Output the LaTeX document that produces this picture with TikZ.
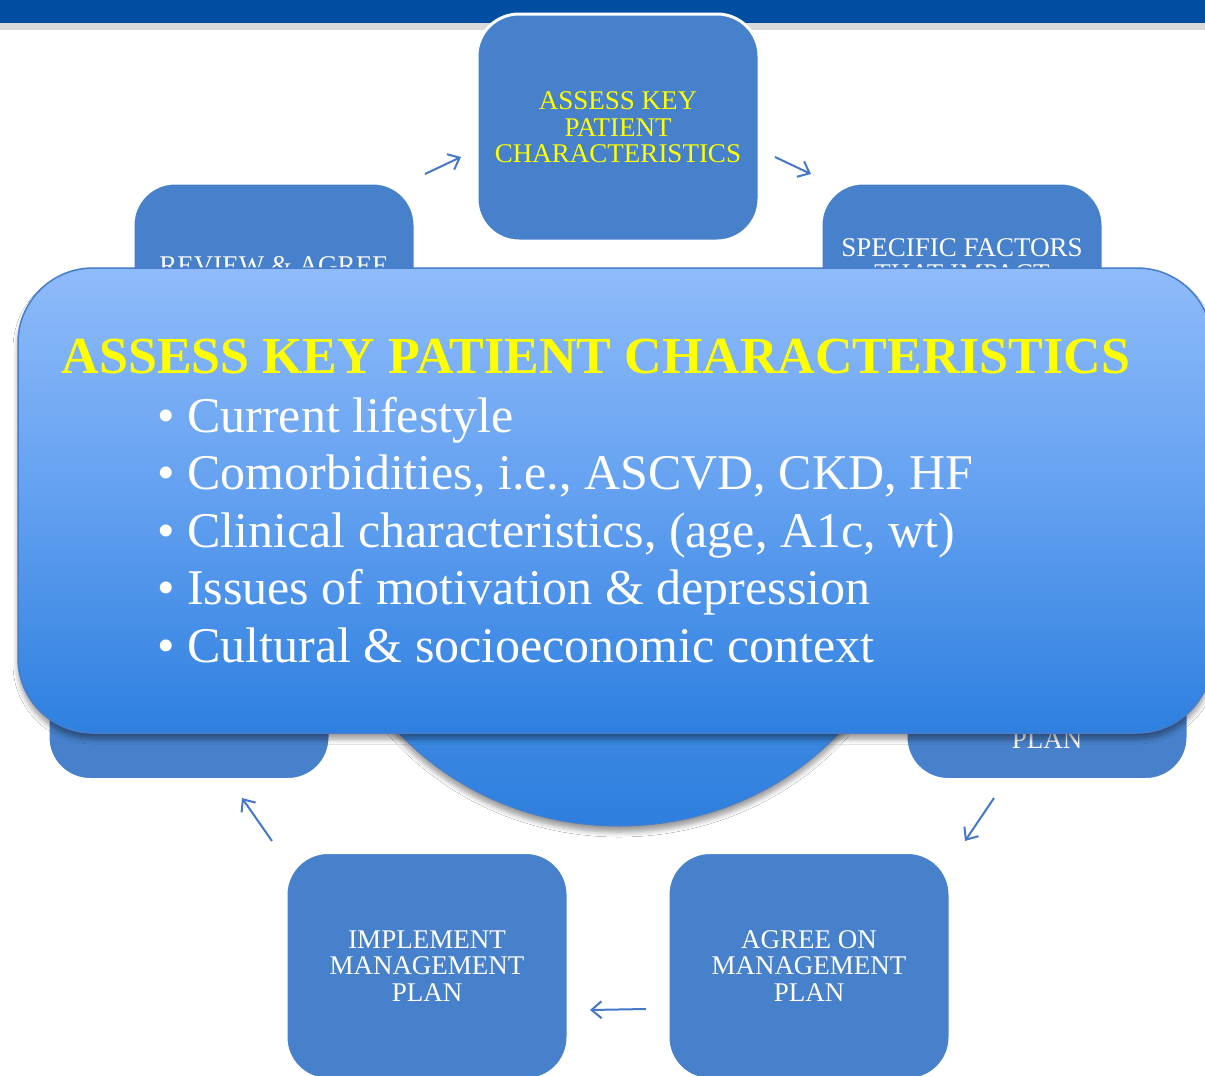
\documentclass[tikz,border=0pt]{standalone}
\usepackage{fontspec}
\setmainfont{Liberation Serif}
\usetikzlibrary{arrows.meta,shadows.blur,shapes.geometric}
\definecolor{barblue}{RGB}{0,78,162}
\definecolor{bargrey}{RGB}{217,217,217}
\definecolor{boxblue}{RGB}{71,129,203}
\definecolor{arrowblue}{RGB}{70,120,200}
\definecolor{paneltop}{RGB}{143,187,250}
\definecolor{panelmid}{RGB}{98,160,240}
\definecolor{panelbot}{RGB}{46,128,224}
\definecolor{paneledge}{RGB}{70,125,205}
\definecolor{hubtop}{RGB}{120,178,246}
\definecolor{hubbot}{RGB}{46,127,222}
\definecolor{titleyellow}{RGB}{255,255,0}
\begin{document}
\begin{tikzpicture}[x=1pt,y=-1pt,
  stepbox/.style={rectangle, fill=boxblue, draw=white, line width=3pt,
    rounded corners=42pt, minimum width=282pt, minimum height=227pt,
    inner sep=0pt, align=center, text=white,
    font=\fontsize{27}{26.5}\selectfont},
  boxtext/.style={inner sep=0pt, align=center, text=white,
    font=\fontsize{27}{26.5}\selectfont},
  cyclearrow/.style={draw=arrowblue, line width=2pt,
    -{Straight Barb[length=10pt,width=17pt,line width=2pt]}},
  softshadow/.style={blur shadow={shadow xshift=0pt, shadow yshift=-6pt,
    shadow blur steps=6, shadow opacity=40, shadow blur radius=5pt}},
]
\useasboundingbox (0,0) rectangle (1205,1076);
\clip (0,0) rectangle (1205,1076);
\fill[white] (0,0) rectangle (1205,1076);

% header bands
\fill[barblue] (0,0) rectangle (1205,23);
\fill[bargrey] (0,23) rectangle (1205,30);

% cycle steps
\node[stepbox, text=titleyellow] (assess) at (618,127.5)
  {ASSESS KEY\\PATIENT\\CHARACTERISTICS};
\node[stepbox] (factors) at (962,296.5) {};
\node[stepbox] (review) at (274,296.5) {};
\node[stepbox] (shared) at (1047,666) {};
\node[stepbox] (monitor) at (189,666) {};
\node[stepbox] (agree) at (809,966) {AGREE ON\\MANAGEMENT\\PLAN};
\node[stepbox] (implement) at (427,966) {IMPLEMENT\\MANAGEMENT\\PLAN};

% step labels that run under the panel (anchor = baseline of last line)
\node[boxtext, anchor=base] (factorstext) at (962,282.5) {SPECIFIC FACTORS\\THAT IMPACT};
\node[boxtext, anchor=base] (reviewtext) at (274,274) {REVIEW \& AGREE};
\node[boxtext, anchor=base] (sharedtext) at (1047,748) {PLAN};

% arrows between the steps
\coordinate (a1s) at (425,174);
\coordinate (a1e) at (461,157);
\coordinate (a2s) at (775,157);
\coordinate (a2e) at (811,174);
\coordinate (a3s) at (994,798);
\coordinate (a3e) at (965,841);
\coordinate (a4s) at (646,1009);
\coordinate (a4e) at (590,1010);
\coordinate (a5s) at (272,841);
\coordinate (a5e) at (242,798);
\draw[cyclearrow] (a1s) -- (a1e);
\draw[cyclearrow] (a2s) -- (a2e);
\draw[cyclearrow] (a3s) -- (a3e);
\draw[cyclearrow] (a4s) -- (a4e);
\draw[cyclearrow] (a5s) -- (a5e);

% central hub
\node[ellipse, minimum width=588pt, minimum height=552pt, inner sep=0pt,
  top color=hubtop, bottom color=hubbot, draw=paneledge, line width=1pt,
  softshadow] (hub) at (619,550) {};

% detail panel on top
\node[rectangle, rounded corners=75pt, minimum width=1194pt, minimum height=465pt,
  inner sep=0pt, top color=paneltop, bottom color=panelbot, middle color=panelmid,
  draw=paneledge, line width=1.5pt, softshadow] (panel) at (615,500.5) {};

\node[anchor=base, inner sep=0pt, text=titleyellow,
  font=\fontsize{52}{60}\selectfont\bfseries] (title) at (596,373)
  {ASSESS KEY PATIENT CHARACTERISTICS};
\node[anchor=base west, inner sep=0pt, align=left, text=white,
  font=\fontsize{50}{57.5}\selectfont] (items) at (157,662)
  {• Current lifestyle\\
   • Comorbidities, i.e., ASCVD, CKD, HF\\
   • Clinical characteristics, (age, A1c, wt)\\
   • Issues of motivation \& depression\\
   • Cultural \& socioeconomic context};
\end{tikzpicture}
\end{document}
